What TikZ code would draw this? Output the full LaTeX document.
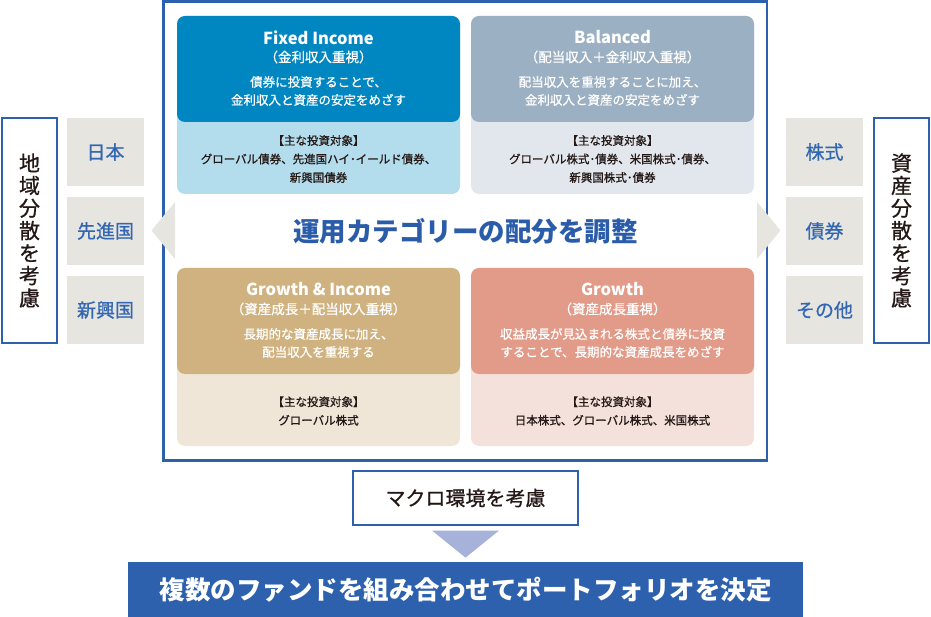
\documentclass[tikz,border=0pt]{standalone}
\usepackage{fontspec}
\setmainfont{Noto Sans CJK JP}
\newfontfamily\medfont{Noto Sans CJK JP}[FakeBold=0.7]
\definecolor{frameblue}{HTML}{2D61AE}
\definecolor{adjblue}{HTML}{2A5CAA}
\definecolor{sideblue}{HTML}{3467B2}
\definecolor{sidegray}{HTML}{E6E5DF}
\definecolor{fixdark}{HTML}{0087C1}
\definecolor{fixlight}{HTML}{B3DCEC}
\definecolor{baldark}{HTML}{9BB0C2}
\definecolor{ballight}{HTML}{E2E7EE}
\definecolor{gindark}{HTML}{CFB27F}
\definecolor{ginlight}{HTML}{EFE6D8}
\definecolor{grodark}{HTML}{E39B89}
\definecolor{grolight}{HTML}{F5E1DC}
\definecolor{arrowblue}{HTML}{A6B2DA}
\definecolor{textdark}{HTML}{231815}
\begin{document}
\begin{tikzpicture}[x=1pt,y=-1pt,
    card/.style={rounded corners=8pt,minimum width=283pt,inner sep=0pt,outer sep=0pt,anchor=north},
    title/.style={text=white,font=\fontsize{16.5}{19}\selectfont\bfseries},
    subtitle/.style={text=white,font=\fontsize{13.5}{16}\selectfont\medfont},
    desc/.style={text=white,align=center,font=\fontsize{12.5}{18}\selectfont\medfont},
    target/.style={text=textdark,align=center,font=\fontsize{11.5}{18.5}\selectfont\medfont},
    sidebox/.style={fill=sidegray,minimum width=77pt,minimum height=68pt,inner sep=0pt,text=sideblue,font=\fontsize{19}{22}\selectfont\medfont},
    sidelabel/.style={draw=frameblue,line width=1.4pt,fill=white,minimum width=55pt,minimum height=225pt,inner sep=0pt,align=center,text=textdark,font=\fontsize{21}{22.5}\selectfont\medfont}]
    \useasboundingbox (0,0) rectangle (931,617);
    \draw[frameblue,line width=2.5pt] (163.5,1.5) rectangle (767,460.5);
    \foreach \nm/\cx/\cy/\dk/\lt/\ttl/\sub/\dsc/\tgt in {
        fix/318.5/16/fixdark/fixlight/{Fixed Income}/{（金利収入重視）}/{債券に投資することで、\\金利収入と資産の安定をめざす}/{【主な投資対象】\\グローバル債券、先進国ハイ･イールド債券、\\新興国債券},
        bal/612.5/16/baldark/ballight/{Balanced}/{（配当収入＋金利収入重視）}/{配当収入を重視することに加え、\\金利収入と資産の安定をめざす}/{【主な投資対象】\\グローバル株式･債券、米国株式･債券、\\新興国株式･債券},
        gin/318.5/268/gindark/ginlight/{Growth \& Income}/{（資産成長＋配当収入重視）}/{長期的な資産成長に加え、\\配当収入を重視する}/{【主な投資対象】\\グローバル株式},
        gro/612.5/268/grodark/grolight/{Growth}/{（資産成長重視）}/{収益成長が見込まれる株式と債券に投資\\することで、長期的な資産成長をめざす}/{【主な投資対象】\\日本株式、グローバル株式、米国株式}} {
        \node[card,fill=\lt,minimum height=178pt] (\nm card) at (\cx,\cy) {};
        \node[card,fill=\dk,minimum height=106pt] (\nm head) at (\cx,\cy) {};
        \node[title] (\nm title) at (\cx,{\cy+21.5}) {\ttl};
        \node[subtitle] (\nm sub) at (\cx,{\cy+41}) {\sub};
        \node[desc] (\nm desc) at (\cx,{\cy+75}) {\dsc};
        \node[target] (\nm target) at (\cx,{\cy+143}) {\tgt};
    }
    \fill[sidegray] (151.5,230.5) -- (175,202) -- (175,259) -- cycle;
    \fill[sidegray] (780.5,230.5) -- (757,202) -- (757,259) -- cycle;
    \node[text=adjblue,font=\fontsize{26.5}{30}\selectfont\bfseries] (adjust) at (465.5,231) {運用カテゴリーの配分を調整};
    \foreach \txt [count=\i] in {日本,先進国,新興国} {
        \node[sidebox] (region\i) at (105.5,{152+79*(\i-1)}) {\txt};
    }
    \foreach \txt [count=\i] in {株式,債券,その他} {
        \node[sidebox] (asset\i) at (824.5,{152+79*(\i-1)}) {\txt};
    }
    \node[sidelabel] (regionlabel) at (29.5,230.5) {地\\域\\分\\散\\を\\考\\慮};
    \node[sidelabel] (assetlabel) at (901.5,230.5) {資\\産\\分\\散\\を\\考\\慮};
    \node[draw=frameblue,line width=1.2pt,minimum width=225pt,minimum height=54pt,text=textdark,font=\fontsize{20}{22}\selectfont\medfont] (macro) at (465.5,498) {マクロ環境を考慮};
    \node[fill=frameblue,minimum width=675pt,minimum height=55pt,text=white,font=\fontsize{25.5}{28}\selectfont\bfseries] (final) at (465.5,589.5) {複数のファンドを組み合わせてポートフォリオを決定};
    \fill[arrowblue] (macro.south) ++(-33.5,5) -- ++(67,0) -- ++(-33.5,27) -- cycle;
\end{tikzpicture}
\end{document}
